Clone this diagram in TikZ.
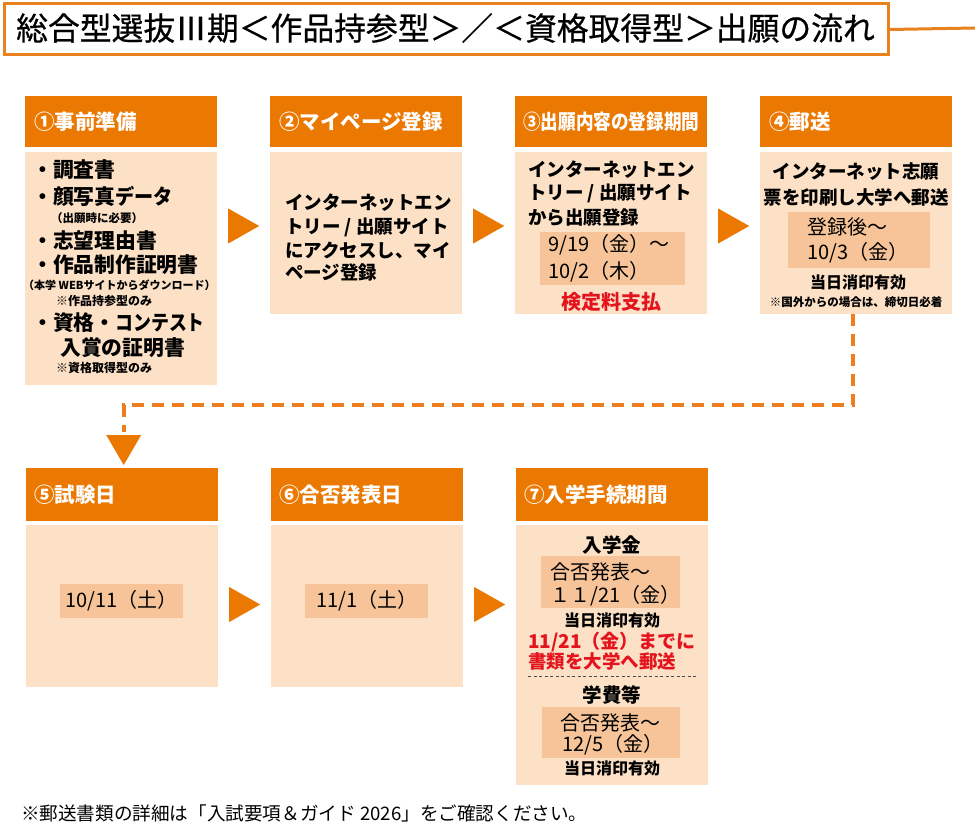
\documentclass[tikz,border=0pt]{standalone}
\usepackage{fontspec}
\usepackage{graphicx}
\setmainfont{Noto Sans CJK JP}
\newfontfamily\titlefont[FakeBold=0.6]{Noto Sans CJK JP}
\usetikzlibrary{calc}
\definecolor{hdr}{RGB}{235,120,0}
\definecolor{bodyc}{RGB}{252,225,198}
\definecolor{hil}{RGB}{246,196,152}
\definecolor{titleor}{RGB}{232,130,30}
\definecolor{redt}{RGB}{228,20,30}
\definecolor{dashc}{RGB}{237,125,30}
\newcommand{\fsz}[1]{\fontsize{#1}{#1}\selectfont}
\begin{document}
\begin{tikzpicture}[x=1pt,y=-1pt,
  hd/.style={fill=hdr, minimum width=192, minimum height=51, anchor=north west, inner sep=0},
  bd/.style={fill=bodyc, minimum width=192, anchor=north west, inner sep=0},
  hdtext/.style={text=white, font=\fsz{20.5}\bfseries, anchor=west, inner sep=0},
  tx/.style={font=\fsz{18.5}\bfseries, anchor=west, inner sep=0},
  txc/.style={font=\fsz{18.5}\bfseries, anchor=center, inner sep=0},
  bl/.style={font=\fsz{20.8}\bfseries, anchor=west, inner sep=0},
  dt/.style={font=\fsz{20}, anchor=west, inner sep=0},
  dtc/.style={font=\fsz{20}, anchor=center, inner sep=0},
  sm/.style={font=\fsz{11.5}\bfseries, anchor=west, inner sep=0},
  smc/.style={font=\fsz{11.5}\bfseries, anchor=center, inner sep=0},
  st/.style={font=\fsz{16}\bfseries, anchor=center, inner sep=0},
  rd/.style={text=redt, font=\fsz{19}\bfseries, anchor=west, inner sep=0},
  hl/.style={fill=hil, anchor=north west, inner sep=0},
  dashline/.style={draw=dashc, line width=4, dash pattern=on 12 off 8}
]
\useasboundingbox (0,0) rectangle (975,829);
\fill[white] (0,0) rectangle (975,829);

% title
\node[draw=titleor, line width=3, minimum width=884, minimum height=51, anchor=north west, inner sep=0] (title) at (2.5,2.5) {};
\node[font=\titlefont\fsz{31.8}, anchor=west, inner sep=0] (titletext) at (16,28) {総合型選抜Ⅲ期＜作品持参型＞／＜資格取得型＞出願の流れ};
\coordinate (titleend) at (975,28);
\draw[titleor, line width=3] (title.east) -- (titleend);

% row 1 boxes
\node[hd] (h1) at (25,96) {};
\node[bd, minimum height=233] (b1) at (25,152) {};
\node[hd] (h2) at (270,96) {};
\node[bd, minimum height=162] (b2) at (270,152) {};
\node[hd] (h3) at (515,96) {};
\node[bd, minimum height=162] (b3) at (515,152) {};
\node[hd] (h4) at (760,96) {};
\node[bd, minimum height=162] (b4) at (760,152) {};

\node[hdtext] (h1t) at ($(h1.west)+(9,0)$) {①事前準備};
\node[hdtext] (h2t) at ($(h2.west)+(9,0)$) {②マイページ登録};
\node[hdtext] (h3t) at ($(h3.west)+(8,0)$) {\scalebox{0.86}[1]{③出願内容の登録期間}};
\node[hdtext] (h4t) at ($(h4.west)+(9,0)$) {④郵送};

% row 2 boxes
\node[hd, minimum height=53] (h5) at (26,468) {};
\node[bd, minimum height=162] (b5) at (26,525) {};
\node[hd, minimum height=53] (h6) at (271,468) {};
\node[bd, minimum height=162] (b6) at (271,525) {};
\node[hd, minimum height=53] (h7) at (516,468) {};
\node[bd, minimum height=260] (b7) at (516,525) {};

\node[hdtext] (h5t) at ($(h5.west)+(8,0)$) {⑤試験日};
\node[hdtext] (h6t) at ($(h6.west)+(8,0)$) {⑥合否発表日};
\node[hdtext] (h7t) at ($(h7.west)+(8,0)$) {⑦入学手続期間};

% box 1 text
\node[bl] (l1) at (32,170) {・調査書};
\node[bl] (l2) at (32,196) {・顔写真\scalebox{0.92}[1]{データ}};
\node[sm] (l3) at (51,218) {（出願時に必要）};
\node[bl] (l4) at (32,241) {・志望理由書};
\node[bl] (l5) at (32,265) {・作品制作証明書};
\node[sm, font=\fsz{11}\bfseries] (l6) at (23,285) {（本学 WEBサイトからダウンロード）};
\node[sm, font=\fsz{12}\bfseries] (l7) at (56,301) {※作品持参型のみ};
\node[bl] (l8) at (32,323) {・資格・\scalebox{0.86}[1]{コンテスト}};
\node[bl] (l9) at (60,348) {入賞の証明書};
\node[sm, font=\fsz{12}\bfseries] (l10) at (56,368) {※資格取得型のみ};

% box 2 text
\node[tx] (m1) at (285,203) {インターネットエン};
\node[tx] (m2) at (285,227) {トリー / 出願サイト};
\node[tx] (m3) at (285,250) {にアクセスし、マイ};
\node[tx] (m4) at (285,272) {ページ登録};

% box 3 text
\node[tx] (n1) at (528,170) {インターネットエン};
\node[tx] (n2) at (528,193) {トリー / 出願サイト};
\node[tx] (n3) at (528,217) {から出願登録};
\node[hl, minimum width=145, minimum height=53] (hl3) at (540,232) {};
\node[dt] (n4) at (548,245) {9/19（金）～};
\node[dt] (n5) at (548,272) {10/2（木）};
\node[text=redt, font=\fsz{20}\bfseries, inner sep=0] (n6) at (611,302) {検定料支払};

% box 4 text
\node[txc] (o1) at (856,172) {インターネット志願};
\node[txc] (o2) at (856,197) {票を印刷し大学へ郵送};
\node[hl, minimum width=142, minimum height=56] (hl4) at (788,212) {};
\node[dt] (o3) at (807,227) {登録後～};
\node[dt] (o4) at (807,253) {10/3（金）};
\node[st] (o5) at (858,282) {当日消印有効};
\node[smc] (o6) at (856,302) {※国外からの場合は、締切日必着};

% box 5, 6 text
\node[hl, minimum width=123, minimum height=34] (hl5) at (60,584) {};
\node[dtc] (p1) at (hl5.center) {10/11（土）};
\node[hl, minimum width=123, minimum height=34] (hl6) at (305,584) {};
\node[dtc] (q1) at (hl6.center) {11/1（土）};

% box 7 text
\node[txc, font=\fsz{19.5}\bfseries] (r1) at (612,545) {入学金};
\node[hl, minimum width=139, minimum height=52] (hl7a) at (541,556) {};
\node[dt] (r2) at (550,572) {合否発表～};
\node[dt] (r3) at (550,596) {１１/21（金）};
\node[st] (r4) at (612,620) {当日消印有効};
\node[rd] (r5) at (528,642) {11/21（金）までに};
\node[rd, font=\fsz{18.5}\bfseries] (r6) at (528,661) {書類を大学へ郵送};
\coordinate (sepL) at (528,676);
\coordinate (sepR) at (698,676);
\draw[black!70, line width=0.8, dash pattern=on 3 off 2.5] (sepL) -- (sepR);
\node[txc, font=\fsz{19.5}\bfseries] (r7) at (612,695) {学費等};
\node[hl, minimum width=138, minimum height=51] (hl7b) at (542,707) {};
\node[dt] (r8) at (560,723) {合否発表～};
\node[dt] (r9) at (562,745) {12/5（金）};
\node[st] (r10) at (612,768) {当日消印有効};

% triangles row 1
\foreach \a/\b in {b1/b2, b2/b3, b3/b4}{
  \coordinate (tm) at ($(\a.east |- 0,226)!0.5!(\b.west |- 0,226)$);
  \fill[hdr] ($(tm)+(-15.5,-17.5)$) -- ($(tm)+(15.5,0)$) -- ($(tm)+(-15.5,17.5)$) -- cycle;
}
% triangles row 2
\foreach \a/\b in {b5/b6, b6/b7}{
  \coordinate (tm) at ($(\a.east |- 0,604.5)!0.5!(\b.west |- 0,604.5)$);
  \fill[hdr] ($(tm)+(-15.5,-17.5)$) -- ($(tm)+(15.5,0)$) -- ($(tm)+(-15.5,17.5)$) -- cycle;
}

% dashed connector from box 4 to box 5
\coordinate (dturn) at ($(b4.south)+(-3,91)$);
\coordinate (dend) at ($(h5.north)+(1.5,-36)$);
\draw[dashline] ($(b4.south)+(-3,0)$) -- (dturn) -| (dend);
\coordinate (atip) at ($(h5.north)+(1.5,-3)$);
\fill[hdr] (atip) -- ++(-17.5,-30) -- ++(35,0) -- cycle;

% footnote
\node[font=\fsz{18.6}, anchor=west, inner sep=0] (foot) at (21,813) {※郵送書類の詳細は「入試要項＆ガイド 2026」をご確認ください。};
\end{tikzpicture}
\end{document}
